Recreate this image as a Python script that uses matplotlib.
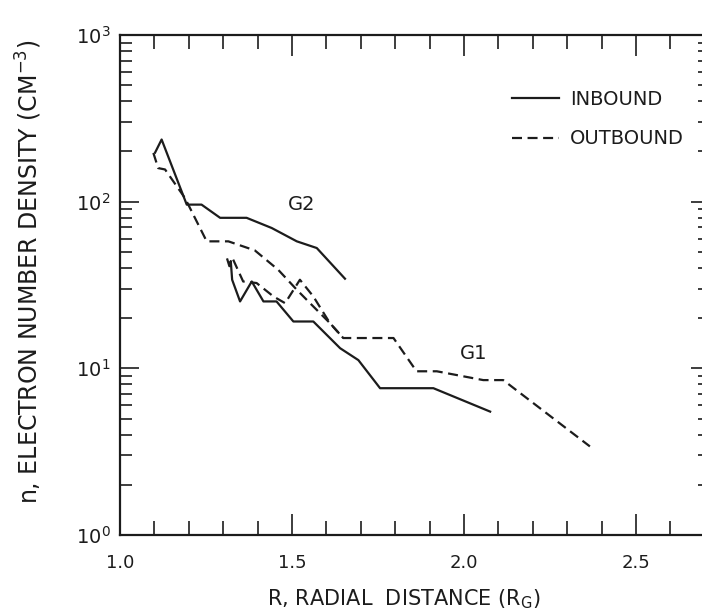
import matplotlib
matplotlib.use("Agg")
import matplotlib.pyplot as plt
from matplotlib.ticker import MultipleLocator, LogLocator, NullFormatter, FormatStrFormatter
from matplotlib.lines import Line2D

plt.rcParams['font.family'] = ['DejaVu Sans']
plt.rcParams['mathtext.default'] = 'regular'

# G2 flyby
g2_in_r = [1.102, 1.121, 1.194, 1.237, 1.291, 1.368, 1.441, 1.514, 1.572, 1.654]
g2_in_n = [197, 236, 96, 96, 80, 80, 69.5, 57.8, 52.7, 34.5]
g2_out_r = [1.097, 1.111, 1.131, 1.189, 1.252, 1.315, 1.392, 1.46, 1.514, 1.562, 1.610, 1.649]
g2_out_n = [196, 159, 156, 105, 57.8, 57.8, 51, 39, 29.6, 23.5, 18.7, 15.2]

# G1 flyby
g1_in_r = [1.312, 1.318, 1.322, 1.326, 1.349, 1.383, 1.417, 1.455, 1.504, 1.562, 1.640, 1.693, 1.756, 1.911, 2.076]
g1_in_n = [45, 41, 44, 34, 25.2, 33.2, 25.2, 25.2, 19.1, 19.1, 13.2, 11.2, 7.6, 7.6, 5.5]
g1_out_r = [1.329, 1.358, 1.397, 1.446, 1.480, 1.523, 1.562, 1.610, 1.649, 1.795, 1.862, 1.921, 2.056, 2.114, 2.366]
g1_out_n = [44.9, 33.2, 32.5, 27, 24.6, 34, 27, 18.7, 15.2, 15.2, 9.6, 9.6, 8.5, 8.5, 3.4]

legend_labels = ["INBOUND", "OUTBOUND"]
x_label = "R, RADIAL  DISTANCE (R$_G$)"
y_label = "n, ELECTRON NUMBER DENSITY (CM$^{-3}$)"

ink = '#1c1c1c'
lw = 1.6
dash = (4.5, 2.5)

fig = plt.figure(figsize=(7.02, 6.14), dpi=100)
ax = fig.add_axes([120/702, 79/614, 590/702, 500/614])

ax.plot(g2_in_r, g2_in_n, color=ink, lw=lw)
ax.plot(g2_out_r, g2_out_n, color=ink, lw=lw, linestyle=(0, dash))
ax.plot(g1_in_r, g1_in_n, color=ink, lw=lw)
ax.plot(g1_out_r, g1_out_n, color=ink, lw=lw, linestyle=(0, dash))

ax.set_yscale('log')
ax.set_xlim(1.0, 1.0 + 590/344)
ax.set_ylim(1, 1000)

ax.xaxis.set_major_locator(MultipleLocator(0.5))
ax.xaxis.set_minor_locator(MultipleLocator(0.1))
ax.xaxis.set_major_formatter(FormatStrFormatter('%.1f'))
ax.yaxis.set_major_locator(LogLocator(base=10, numticks=10))
ax.yaxis.set_minor_locator(LogLocator(base=10, subs=range(2, 10), numticks=20))
ax.yaxis.set_minor_formatter(NullFormatter())

ax.tick_params(axis='both', which='both', direction='in', top=True, right=True, colors=ink)
ax.tick_params(axis='x', which='major', length=15, width=1.2, pad=14, labelsize=13)
ax.tick_params(axis='x', which='minor', length=10, width=1.2)
ax.tick_params(axis='y', which='major', length=14, width=1.2, pad=7, labelsize=14)
ax.tick_params(axis='y', which='minor', length=8.5, width=1.2)

for s in ax.spines.values():
    s.set_linewidth(1.6)
    s.set_color(ink)

ax.set_xlabel(x_label, fontsize=15, color=ink)
ax.xaxis.set_label_coords((404-120)/590, -0.104)
ax.set_ylabel(y_label, fontsize=17, color=ink)
ax.yaxis.set_label_coords((44-120)/590, 0.526)

ax.text(1.528, 96, "G2", fontsize=14, color=ink, ha='center', va='center')
ax.text(2.027, 12.3, "G1", fontsize=14, color=ink, ha='center', va='center')

handles = [Line2D([], [], color=ink, lw=lw),
           Line2D([], [], color=ink, lw=lw, linestyle=(0, dash))]
leg = ax.legend(handles, legend_labels, loc='upper left',
                bbox_to_anchor=((512-120)/590, (535-90)/500),
                frameon=False, fontsize=14, handlelength=2.4, handletextpad=0.6,
                labelspacing=1.05, borderpad=0, borderaxespad=0)
for t in leg.get_texts():
    t.set_color(ink)

fig.savefig("out.png", dpi=100)
